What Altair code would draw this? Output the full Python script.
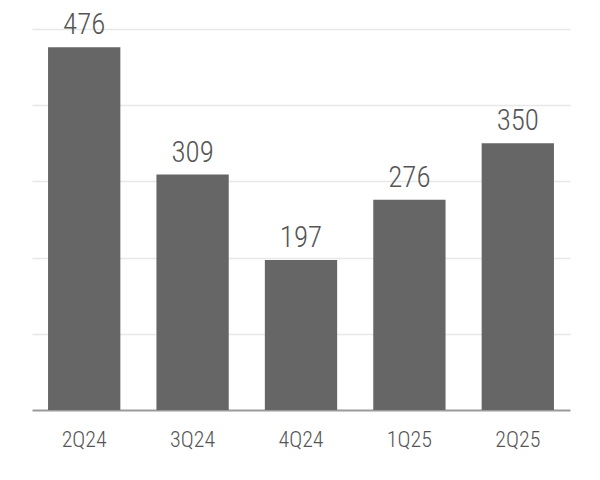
import altair as alt
import pandas as pd

quarters = ["2Q24", "3Q24", "4Q24", "1Q25", "2Q25"]
values = [476, 309, 197, 276, 350]

df = pd.DataFrame({"quarter": quarters, "value": values})

FONT = "Roboto Condensed, Liberation Sans Narrow, DejaVu Sans Condensed, Arial Narrow, sans-serif"

x = alt.X("quarter:N", sort=quarters, title=None,
          scale=alt.Scale(paddingInner=0.333, paddingOuter=0.148),
          axis=alt.Axis(labelAngle=0, labelFont=FONT, labelFontSize=22, labelFontWeight=300,
                        labelColor="#555555",
                        labelPadding=19, ticks=False, domainColor="#9a9a9a", domainWidth=2,
                        grid=False))
y = alt.Y("value:Q", title=None,
          scale=alt.Scale(domain=[0, 500], nice=False),
          axis=alt.Axis(labels=False, ticks=False, domain=False, values=[100, 200, 300, 400, 500],
                        gridColor="#e8e8e8", gridWidth=1.5))

bars = alt.Chart(df).mark_bar(color="#666666").encode(x=x, y=y)
text = alt.Chart(df).mark_text(dy=-13, baseline="alphabetic", font=FONT, fontSize=29,
                               color="#555555", fontWeight=300).encode(
    x=alt.X("quarter:N", sort=quarters), y="value:Q", text="value:Q")

chart = (bars + text).properties(
    width=538, height=381,
    padding={"left": 24, "top": 21, "right": 22, "bottom": 50},
    autosize=alt.AutoSizeParams(type="none"),
    background="white",
).configure_view(stroke=None)

chart.save("out.html", embed_options={"renderer": "svg", "actions": False})
